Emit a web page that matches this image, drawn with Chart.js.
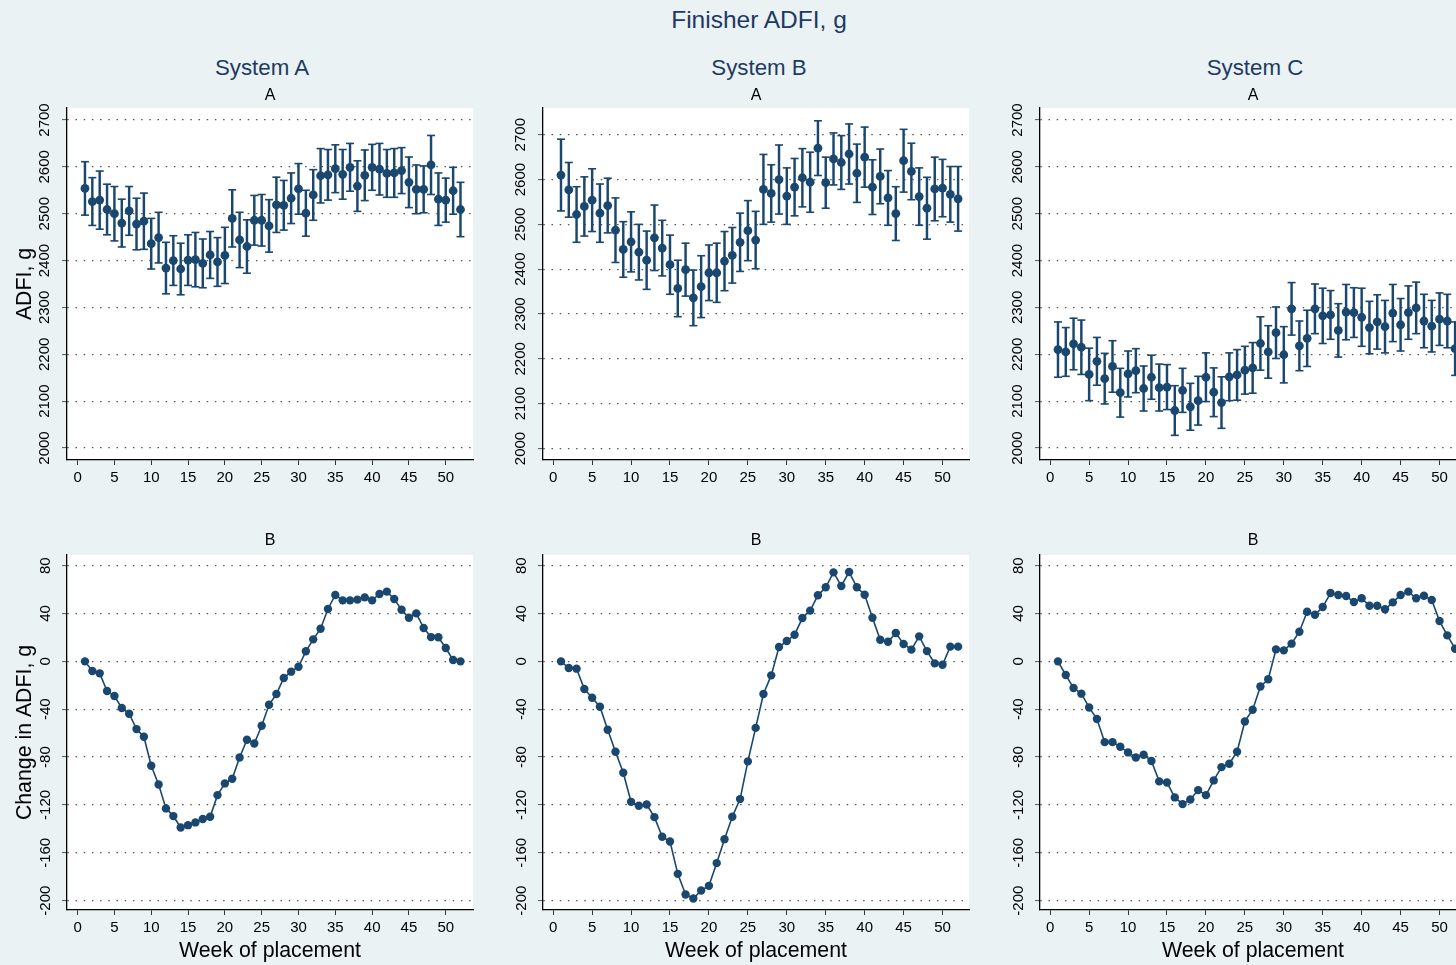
<!DOCTYPE html>
<html>
<head>
<meta charset="utf-8">
<script src="https://cdn.jsdelivr.net/npm/chart.js@4/dist/chart.umd.min.js"></script>
<style>
  html, body { margin: 0; padding: 0; width: 1456px; height: 965px; overflow: hidden; background: #EAF2F3; }
  body { position: relative; font-family: "Liberation Sans", Arial, sans-serif; }
  .lbl { position: absolute; white-space: nowrap; transform: translate(-50%, -50%); line-height: 1; z-index: 2; }
  .main { font-size: 24.5px; color: #1E3A64; }
  .sys { font-size: 22.3px; color: #1E3A64; }
  .pan { font-size: 16px; color: #000; }
  canvas { position: absolute; z-index: 1; }
</style>
</head>
<body>
<div class="lbl main" style="left:759px;top:20px">Finisher ADFI, g</div>
<div class="lbl sys" style="left:262px;top:68px">System A</div>
<div class="lbl sys" style="left:759px;top:68px">System B</div>
<div class="lbl sys" style="left:1255px;top:68px">System C</div>
<div class="lbl pan" style="left:270px;top:95px">A</div>
<div class="lbl pan" style="left:756px;top:95px">A</div>
<div class="lbl pan" style="left:1253px;top:95px">A</div>
<div class="lbl pan" style="left:270px;top:540px">B</div>
<div class="lbl pan" style="left:756px;top:540px">B</div>
<div class="lbl pan" style="left:1253px;top:540px">B</div>

<canvas id="topA"></canvas>
<canvas id="topB"></canvas>
<canvas id="topC"></canvas>
<canvas id="botA"></canvas>
<canvas id="botB"></canvas>
<canvas id="botC"></canvas>

<script>
// Week of placement
const weeks = [1,2,3,4,5,6,7,8,9,10,11,12,13,14,15,16,17,18,19,20,21,22,23,24,25,26,
               27,28,29,30,31,32,33,34,35,36,37,38,39,40,41,42,43,44,45,46,47,48,49,50,51,52];

// Tick labels
const weekTicks = [0,5,10,15,20,25,30,35,40,45,50];
const adfiTicks = [2000,2100,2200,2300,2400,2500,2600,2700];
const changeTicks = [-200,-160,-120,-80,-40,0,40,80];

// Mean finisher ADFI (g) by week, with 95% CI half-widths
const systemA_adfi = [2554,2526,2529,2509,2500,2480,2506,2478,2484,2436,
                      2449,2384,2400,2382,2401,2402,2394,2412,2397,2411,
                      2490,2444,2430,2486,2486,2474,2519,2518,2533,2553,
                      2501,2540,2581,2583,2596,2584,2599,2559,2582,2599,
                      2595,2586,2587,2592,2567,2552,2552,2604,2531,2529,
                      2549,2509];
const systemA_ci = [57,51,62,54,58,51,52,55,60,54, 54,55,53,55,54,58,52,50,52,60,
                    61,59,57,53,55,56,59,53,54,54, 49,54,58,54,51,53,51,54,54,49,
                    55,51,52,49,54,52,50,63,56,47, 50,58];

const systemB_adfi = [2610,2577,2522,2540,2554,2525,2542,2487,2444,2461,
                      2438,2420,2470,2447,2410,2357,2399,2336,2361,2392,
                      2392,2418,2431,2460,2486,2465,2578,2569,2600,2563,
                      2583,2604,2594,2670,2593,2646,2638,2657,2614,2650,
                      2583,2607,2559,2524,2642,2618,2562,2536,2579,2581,
                      2567,2557];
const systemB_ci = [80,61,62,66,70,65,61,72,62,67, 62,65,73,62,66,63,59,62,69,62,
                    66,66,62,65,67,64,78,64,77,63, 64,65,67,61,57,58,60,67,65,67,
                    61,61,61,60,70,63,64,69,71,64, 62,72];

const systemC_adfi = [2210,2205,2222,2215,2157,2185,2148,2174,2118,2158,
                      2165,2127,2151,2129,2130,2080,2123,2088,2101,2151,
                      2119,2097,2152,2156,2166,2171,2223,2205,2246,2199,
                      2297,2218,2234,2297,2282,2284,2251,2290,2289,2279,
                      2257,2269,2259,2288,2263,2289,2299,2271,2260,2275,
                      2271,2212];
const systemC_ci = [59,52,55,58,56,51,54,55,52,49, 47,48,47,50,48,53,47,50,52,52,
                    52,55,51,54,51,54,57,56,55,60, 56,53,60,53,59,52,57,59,53,62,
                    56,58,56,61,56,57,55,57,55,56, 57,57];

// Change in ADFI (g) relative to week 1
const systemA_change = [0,-8.1,-10,-24.8,-29,-39,-43.8,-56.6,-63,-87.2,
                        -102.9,-122.9,-129.3,-138.8,-136.9,-134.6,-131.8,-129.9,-111.8,-102,
                        -98.1,-80.3,-65.5,-68.6,-53.8,-36.3,-27.3,-13.9,-8.6,-4.5,
                        8.4,18.4,27.3,43.8,55.5,51,51,51.6,53.5,51,
                        56.3,58.3,52.1,43.2,36.5,40.1,27.9,20.3,20.1,11.2,
                        1.1,0];
const systemB_change = [0,-5.6,-6.1,-23.1,-30.4,-37.9,-57.1,-75.5,-93.1,-117.4,
                        -120.7,-119.6,-130.2,-146.6,-150.5,-177.6,-194.8,-198.2,-191.5,-187.6,
                        -168.6,-148.6,-129.9,-115.1,-83.6,-55.6,-27.3,-11.7,12,17,
                        22.3,36.2,42.4,55.2,61.9,74.4,63,74.7,61.9,55.7,
                        36.5,18.1,16.4,23.7,14.5,9.8,20.9,8.6,-1.7,-2.8,
                        12.3,12.3];
const systemC_change = [0,-11.4,-22.3,-27,-38.5,-48.2,-67.5,-67.5,-71.4,-76.1,
                        -80.3,-78,-83.3,-100.3,-101.2,-113.7,-119.3,-115.4,-107.6,-111.8,
                        -99.5,-88.4,-85.6,-75.5,-50.2,-40.4,-21,-15,10,9.2,
                        14.8,24.8,41.5,39,45.4,57.1,55.5,54.6,49.6,52.7,
                        46.5,46.5,43.5,49.3,55.5,58.3,52.7,54.9,51.3,33.7,
                        21.7,10.6];

const NAVY = '#1A476F';
const FONT = '"Liberation Sans", Arial, sans-serif';

// White plot region behind the data
const plotRegion = {
  id: 'plotRegion',
  beforeDraw(chart) {
    const { ctx, chartArea: a } = chart;
    ctx.save();
    ctx.fillStyle = '#FFFFFF';
    ctx.fillRect(a.left, a.top, a.right - a.left, a.bottom - a.top);
    ctx.restore();
  }
};

// Panel geometry: canvas box and the plot area inside it
const columns = {
  A: { left: 0,   width: 480, yAxisW: 67, padRight: 7,  xmin: -1.44, xmax: 53.7 },
  B: { left: 490, width: 485, yAxisW: 53, padRight: 6,  xmin: -1.31, xmax: 53.4 },
  C: { left: 985, width: 490, yAxisW: 55, padRight: 9,  xmin: -1.31, xmax: 53.4 }
};
const rows = {
  top: { top: 92,  height: 408, padTop: 16, xAxisH: 40, ticks: adfiTicks },
  bot: { top: 540, height: 425, padTop: 15, xAxisH: 55, ticks: changeTicks, min: -207.8, max: 88.9 }
};

const plainNumber = v => String(v);

function makeOptions(col, row, ymin, ymax, yTitle, xTitle, tickPad) {
  return {
    responsive: false,
    animation: false,
    devicePixelRatio: 1,
    layout: { padding: { top: row.padTop, right: col.padRight, left: 0, bottom: 0 } },
    plugins: { legend: { display: false }, tooltip: { enabled: false }, title: { display: false } },
    scales: {
      x: {
        type: 'linear', min: col.xmin, max: col.xmax, offset: false,
        afterBuildTicks: s => { s.ticks = weekTicks.map(v => ({ value: v })); },
        afterFit: s => { s.height = row.xAxisH; },
        grid: { display: true, drawOnChartArea: false, drawTicks: true, tickLength: 5, tickColor: '#333', tickWidth: 1, offset: false },
        border: { display: true, color: '#000', width: 1.3 },
        ticks: { font: { family: FONT, size: 15 }, color: '#000', padding: 4, maxRotation: 0, minRotation: 0,
                 autoSkip: false, callback: plainNumber },
        title: { display: !!xTitle, text: xTitle || '', font: { family: FONT, size: 21.3 }, color: '#000', padding: { top: 0, bottom: 1 } }
      },
      y: {
        type: 'linear', min: ymin, max: ymax,
        afterBuildTicks: s => { s.ticks = row.ticks.map(v => ({ value: v })); },
        afterFit: s => { s.width = col.yAxisW; },
        grid: { display: true, drawOnChartArea: true, drawTicks: true, tickLength: 5, tickColor: '#555', tickWidth: 1,
                color: '#555', lineWidth: 1.2, tickBorderDash: [] },
        border: { display: true, color: '#000', width: 1.3, dash: [1.5, 6.7] },
        ticks: { font: { family: FONT, size: 15 }, color: '#000', padding: tickPad, minRotation: 90, maxRotation: 90,
                 crossAlign: 'center', autoSkip: false, includeBounds: false, callback: plainNumber },
        title: { display: !!yTitle, text: yTitle || '', font: { family: FONT, size: 21.3 }, color: '#000', padding: { top: 12, bottom: 0 } }
      }
    }
  };
}

function placeCanvas(id, col, row) {
  const c = document.getElementById(id);
  c.width = col.width; c.height = row.height;
  c.style.left = col.left + 'px'; c.style.top = row.top + 'px';
  c.style.width = col.width + 'px'; c.style.height = row.height + 'px';
  return c;
}

function adfiPanel(id, col, means, ci, ymin, ymax, yTitle) {
  const c = placeCanvas(id, col, rows.top);
  const points = weeks.map((w, i) => ({ x: w, y: means[i] }));
  const bars = weeks.map((w, i) => ({ x: w, y: [means[i] - ci[i], means[i] + ci[i]] }));
  const caps = [];
  weeks.forEach((w, i) => { caps.push({ x: w, y: means[i] - ci[i] }); caps.push({ x: w, y: means[i] + ci[i] }); });
  new Chart(c, {
    type: 'scatter',
    data: {
      datasets: [
        { type: 'scatter', data: points, pointRadius: 4.4, pointBackgroundColor: NAVY, pointBorderColor: NAVY, pointBorderWidth: 0, order: 0 },
        { type: 'scatter', data: caps, pointStyle: 'line', pointRadius: 4, pointBorderColor: NAVY, pointBorderWidth: 1.6, order: 1 },
        { type: 'bar', data: bars, barThickness: 1.8, backgroundColor: NAVY, borderWidth: 0, grouped: false, order: 2 }
      ]
    },
    options: makeOptions(col, rows.top, ymin, ymax, yTitle, null, 0),
    plugins: [plotRegion]
  });
}

function changePanel(id, col, values, yTitle) {
  const c = placeCanvas(id, col, rows.bot);
  new Chart(c, {
    type: 'line',
    data: {
      datasets: [{
        data: weeks.map((w, i) => ({ x: w, y: values[i] })),
        borderColor: NAVY, borderWidth: 1.6, tension: 0,
        pointRadius: 4.2, pointBackgroundColor: NAVY, pointBorderColor: NAVY, pointBorderWidth: 0
      }]
    },
    options: makeOptions(col, rows.bot, rows.bot.min, rows.bot.max, yTitle, 'Week of placement', 1.5),
    plugins: [plotRegion]
  });
}

adfiPanel('topA', columns.A, systemA_adfi, systemA_ci, 1974.4, 2725.6, 'ADFI, g');
adfiPanel('topB', columns.B, systemB_adfi, systemB_ci, 1974.3, 2759.6, null);
adfiPanel('topC', columns.C, systemC_adfi, systemC_ci, 1974.4, 2725.6, null);
changePanel('botA', columns.A, systemA_change, 'Change in ADFI, g');
changePanel('botB', columns.B, systemB_change, null);
changePanel('botC', columns.C, systemC_change, null);
</script>
</body>
</html>
